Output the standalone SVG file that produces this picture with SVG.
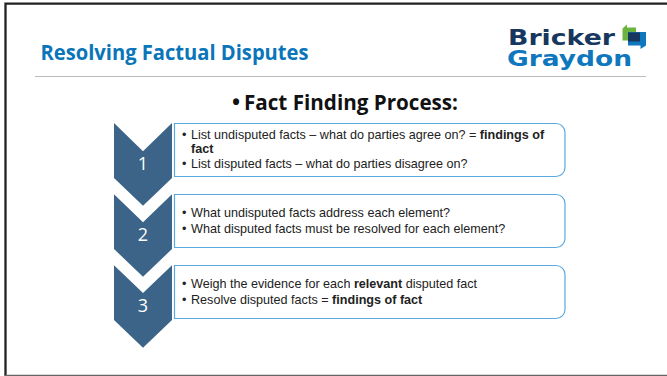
<svg xmlns="http://www.w3.org/2000/svg" width="667" height="376" viewBox="0 0 667 376">
<style>
.chev{fill:#3b6488}
.box{fill:#fff;stroke:#5aa9e0;stroke-width:1.2}
.num{font:18px "Open Sans","Noto Sans",sans-serif;fill:#fff;text-anchor:middle}
.t{font:12.6px "Liberation Sans",Arial,sans-serif;fill:#222}
.b{font-weight:700}
</style>
<rect width="667" height="376" fill="#fff"/>
<g id="frame"><path d="M5.5 376V3.7H667" fill="none" stroke="#222" stroke-width="2.3"/><path d="M5 375.4H667" fill="none" stroke="#666" stroke-width="1.2"/></g>
<g id="header">
<text x="40.5" y="60" font-family="'Open Sans','Noto Sans',sans-serif" font-size="20.5" font-weight="700" fill="#0a75b9" textLength="268" lengthAdjust="spacingAndGlyphs">Resolving Factual Disputes</text>
<path d="M35 76.5H646" stroke="#bbb" stroke-width="1"/>
</g>
<g id="logo">
<text x="508" y="45" font-family="'DejaVu Sans',sans-serif" font-size="22" font-weight="700" fill="#17375e" textLength="107" lengthAdjust="spacingAndGlyphs">Bricker</text>
<text x="507" y="65.7" font-family="'DejaVu Sans',sans-serif" font-size="22" font-weight="700" fill="#0f77bd" textLength="125" lengthAdjust="spacingAndGlyphs">Graydon</text>
<path d="M622.5 28.5L627 24.5V27.5H636V33H628.5V40.5H622.5Z" fill="#6cb33f"/>
<path d="M628 32H646V45.5L640.5 49V45.5H628Z" fill="#0f77bd"/>
<rect x="628" y="32.5" width="12" height="9" fill="#17375e"/>
</g>
<g id="heading"><text x="232" y="110" font-family="'Open Sans','Noto Sans',sans-serif" font-size="21.5" font-weight="700" fill="#111">•</text><text x="244" y="110" font-family="'Open Sans','Noto Sans',sans-serif" font-size="21.5" font-weight="700" fill="#111" textLength="214" lengthAdjust="spacingAndGlyphs">Fact Finding Process:</text></g>
<g id="step1">
<path class="chev" d="M114 123L143 151.3L172 123V178L143 205.7L114 178Z"/>
<text class="num" x="143" y="170">1</text>
<path class="box" d="M174.5 123.5H556a9 9 0 0 1 9 9V167.5a9 9 0 0 1-9 9H174.5Z"/>
<text class="t" x="182" y="139">•</text><text class="t" x="191" y="139">List undisputed facts – what do parties agree on? = <tspan class="b">findings of</tspan></text>
<text class="t b" x="191" y="153">fact</text>
<text class="t" x="182" y="168">•</text><text class="t" x="191" y="168">List disputed facts – what do parties disagree on?</text>
</g>
<g id="step2">
<path class="chev" d="M114 194.3L143 222.3L172 194.3V249L143 276.7L114 249Z"/>
<text class="num" x="143" y="241">2</text>
<path class="box" d="M174.5 194.5H556a9 9 0 0 1 9 9V238.5a9 9 0 0 1-9 9H174.5Z"/>
<text class="t" x="182" y="217">•</text><text class="t" x="191" y="217">What undisputed facts address each element?</text>
<text class="t" x="182" y="233">•</text><text class="t" x="191" y="233">What disputed facts must be resolved for each element?</text>
</g>
<g id="step3">
<path class="chev" d="M114 265.3L143 293L172 265.3V320L143 347.7L114 320Z"/>
<text class="num" x="143" y="312">3</text>
<path class="box" d="M174.5 265.5H556a9 9 0 0 1 9 9V309.5a9 9 0 0 1-9 9H174.5Z"/>
<text class="t" x="182" y="288">•</text><text class="t" x="191" y="288">Weigh the evidence for each <tspan class="b">relevant</tspan> disputed fact</text>
<text class="t" x="182" y="304">•</text><text class="t" x="191" y="304">Resolve disputed facts = <tspan class="b">findings of fact</tspan></text>
</g>
<g id="connectors"/>
</svg>
